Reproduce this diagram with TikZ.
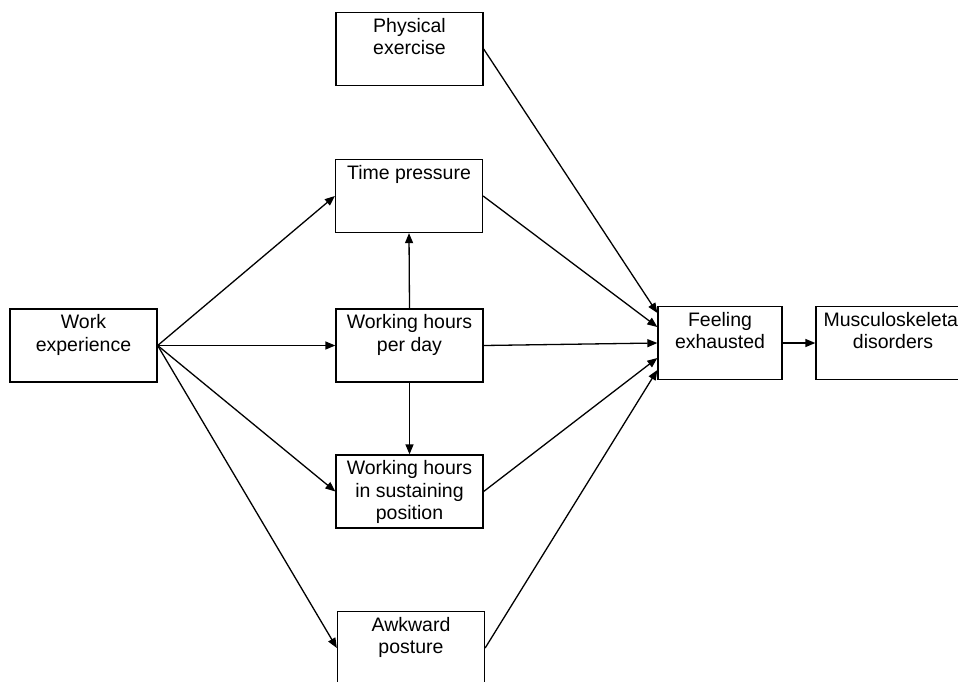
\documentclass[tikz,border=0pt]{standalone}
\usepackage{fontspec}
\setmainfont{Liberation Sans}
\usepackage{tikz}
\usetikzlibrary{arrows.meta}

\newcommand{\boxtext}[2][140pt]{\parbox[c][62pt][t]{#1}{\centering #2}}

\begin{document}
\begin{tikzpicture}[x=1pt,y=-1pt,line width=1.3pt,
  >={Triangle[length=10pt,width=8pt]},
  box/.style={draw,inner sep=0pt,minimum width=147pt,minimum height=73pt,
    font=\fontsize{19.5}{22.5}\selectfont}]
\useasboundingbox(0,0)rectangle(958,681);
\clip(0,0)rectangle(958,681);
% boxes
\node[box](we)at(83.5,345.5){\boxtext{Work\\experience}};
\node[box](pe)at(409.5,49){\boxtext{Physical\\exercise}};
\node[box](tp)at(409,196){\boxtext{Time pressure}};
\node[box](whd)at(409.5,345.5){\boxtext{Working hours\\per day}};
\node[box](whs)at(409.5,491.5){\boxtext{Working hours\\in sustaining\\position}};
\node[box](ap)at(411,648){\boxtext{Awkward\\posture}};
\node[box,minimum width=124pt](fe)at(720,343){\boxtext[110pt]{Feeling\\exhausted}};
\node[box,minimum width=154pt](msd)at(893,343){\boxtext[145pt]{Musculoskeletal\\disorders}};
% work experience
\draw[->](we.east)--(tp.west);
\draw[->](we.east)--(whd.west);
\draw[->](we.east)--(whs.west);
\draw[->](we.east)--(ap.west);
% working hours per day
\draw[->](whd.north)--(tp.south);
\draw[->](whd.south)--(whs.north);
% into feeling exhausted
\draw[->](pe.east)--([yshift=30pt]fe.west);
\draw[->](tp.east)--([yshift=16pt]fe.west);
\draw[->](whd.east)--(fe.west);
\draw[->](whs.east)--([yshift=-15pt]fe.west);
\draw[->](ap.east)--([yshift=-27pt]fe.west);
\draw[->](fe.east)--(msd.west);
\end{tikzpicture}
\end{document}
